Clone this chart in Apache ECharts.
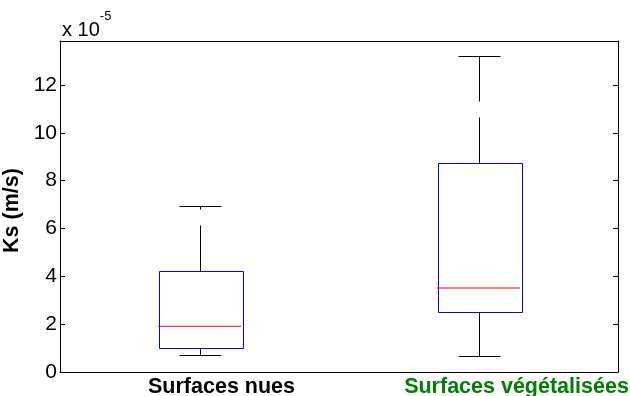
<!DOCTYPE html>
<html>
<head>
<meta charset="utf-8">
<script src="https://cdn.jsdelivr.net/npm/echarts@6/dist/echarts.min.js"></script>
<style>html,body{margin:0;padding:0;background:#fff}#c{width:630px;height:396px}</style>
</head>
<body>
<div id="c"></div>
<script>
var categories = ['Surfaces nues', 'Surfaces végétalisées'];
var lowerWhisker = [0.70, 0.66];
var q1 = [0.99, 2.50];
var median = [1.91, 3.51];
var q3 = [4.22, 8.72];
var upperWhisker = [6.93, 13.23];
var yTicks = [0, 2, 4, 6, 8, 10, 12];

var FONT = "'Liberation Sans', Arial, sans-serif";
var boxData = categories.map(function (c, i) {
  return [i, lowerWhisker[i], q1[i], median[i], q3[i], upperWhisker[i]];
});
var medianData = categories.map(function (c, i) { return [i, median[i]]; });

function r(v) { return Math.round(v) + 0.5; }
function geom(api) {
  var x = api.value(0);
  var band = api.size([1, 0])[0];
  var pMed = api.coord([x, api.value(3)]);
  return {
    cx: r(pMed[0]), bw: Math.round(band * 0.3), cw: Math.round(band * 0.15),
    low: r(api.coord([x, api.value(1)])[1]),
    q1: r(api.coord([x, api.value(2)])[1]),
    q3: r(api.coord([x, api.value(4)])[1]),
    high: r(api.coord([x, api.value(5)])[1])
  };
}
function renderWhiskers(params, api) {
  var g = geom(api);
  function st(d) { var s = { stroke: '#000000', lineWidth: 1, fill: 'none' }; if (d) s.lineDash = [46, 16]; return s; }
  return {
    type: 'group',
    children: [
      { type: 'line', shape: { x1: g.cx, y1: g.q3, x2: g.cx, y2: g.high }, style: st(true) },
      { type: 'line', shape: { x1: g.cx, y1: g.q1, x2: g.cx, y2: g.low }, style: st(true) },
      { type: 'line', shape: { x1: g.cx - g.cw / 2, y1: g.high, x2: g.cx + g.cw / 2, y2: g.high }, style: st(false) },
      { type: 'line', shape: { x1: g.cx - g.cw / 2, y1: g.low, x2: g.cx + g.cw / 2, y2: g.low }, style: st(false) }
    ]
  };
}
function renderBoxes(params, api) {
  var g = geom(api);
  var x0 = Math.round(g.cx - g.bw / 2) + 0.5, x1 = x0 + g.bw;
  return {
    type: 'polygon',
    shape: { points: [[x0, g.q3], [x1, g.q3], [x1, g.q1], [x0, g.q1]] },
    style: { stroke: '#0000ff', lineWidth: 1, fill: 'none' }
  };
}

var chart = echarts.init(document.getElementById('c'), null, { renderer: 'canvas' });
var yLabelFmt = function (v) { return yTicks.indexOf(v) >= 0 ? String(v) : ''; };
var enc = { x: 0, y: [1, 2, 3, 4, 5] };
chart.setOption({
  animation: false,
  backgroundColor: '#fff',
  title: {
    left: 57, top: 5,
    text: '{a|x 10}{b|-5}',
    textStyle: {
      fontWeight: 'normal',
      rich: {
        a: { fontFamily: FONT, fontSize: 20, fontWeight: 'normal', color: '#000', lineHeight: 30, verticalAlign: 'bottom' },
        b: { fontFamily: FONT, fontSize: 13, fontWeight: 'normal', color: '#000', lineHeight: 30, verticalAlign: 'top' }
      }
    }
  },
  grid: { left: 60, right: 12, top: 41, bottom: 24, containLabel: false, outerBoundsMode: 'none' },
  xAxis: [
    {
      type: 'category', data: categories, boundaryGap: true, position: 'bottom',
      axisLine: { onZero: false, lineStyle: { color: '#000', width: 1 } },
      axisTick: { show: false },
      axisLabel: {
        margin: 4, interval: 0, hideOverlap: false,
        formatter: function (v, i) { return i === 0 ? '{n|' + v + '}' : '{g|' + v + '}'; },
        rich: {
          n: { fontFamily: FONT, fontSize: 21.5, fontWeight: 'bold', color: '#000', padding: [0, 0, 0, 44] },
          g: { fontFamily: FONT, fontSize: 21.5, fontWeight: 'bold', color: '#008000', padding: [0, 0, 0, 76] }
        }
      },
      splitLine: { show: false }
    },
    {
      type: 'category', data: categories, position: 'top',
      axisLine: { show: true, onZero: false, lineStyle: { color: '#000', width: 1 } },
      axisTick: { show: false }, axisLabel: { show: false }
    }
  ],
  yAxis: [
    {
      type: 'value', min: 0, max: 13.84, interval: 2, position: 'left',
      name: 'Ks (m/s)', nameLocation: 'middle', nameGap: 29, nameRotate: 90,
      nameTextStyle: { fontFamily: FONT, fontSize: 21.5, fontWeight: 'bold', color: '#000', padding: [0, 8, 0, 0] },
      axisLine: { show: true, onZero: false, lineStyle: { color: '#000', width: 1 } },
      axisTick: { show: true, inside: true, length: 5, lineStyle: { color: '#000' } },
      axisLabel: { fontFamily: FONT, fontSize: 21, color: '#000', margin: 3, showMaxLabel: false, formatter: yLabelFmt },
      splitLine: { show: false }
    },
    {
      type: 'value', min: 0, max: 13.84, interval: 2, position: 'right',
      axisLine: { show: true, onZero: false, lineStyle: { color: '#000', width: 1 } },
      axisTick: { show: true, inside: true, length: 5, lineStyle: { color: '#000' } },
      axisLabel: { show: false },
      splitLine: { show: false }
    }
  ],
  series: [
    { type: 'custom', name: 'whiskers', renderItem: renderWhiskers, data: boxData, encode: enc, clip: false, z: 2 },
    { type: 'custom', name: 'boxes', renderItem: renderBoxes, data: boxData, encode: enc, clip: false, z: 3 },
    {
      type: 'scatter', name: 'medians', data: medianData, z: 5,
      symbol: 'rect', symbolSize: [83, 1],
      itemStyle: { color: '#ff0000', opacity: 1 },
      emphasis: { disabled: true }, silent: true
    }
  ]
});
</script>
</body>
</html>
